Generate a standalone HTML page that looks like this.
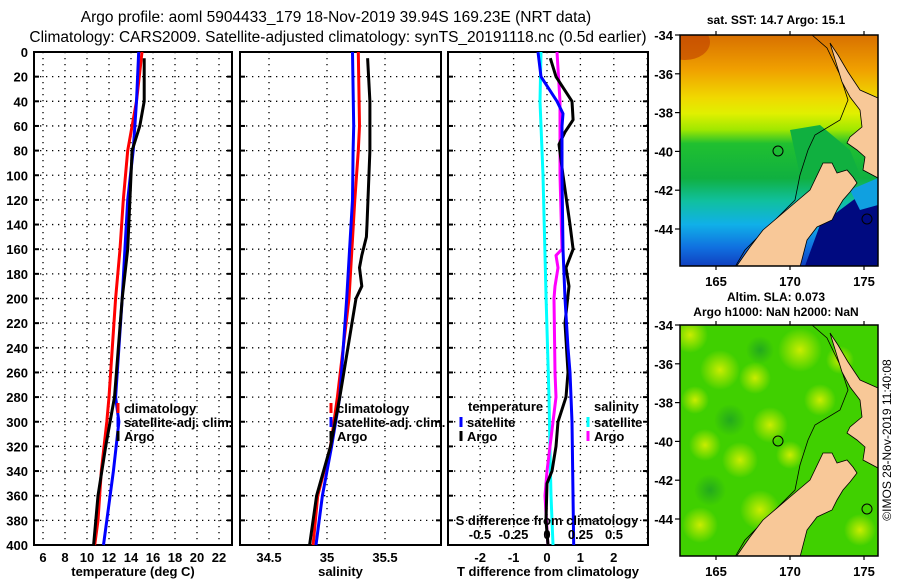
<!DOCTYPE html>
<html><head><meta charset="utf-8">
<style>
html,body{margin:0;padding:0;background:#fff;}
svg{display:block;font-family:"Liberation Sans",Arial,sans-serif;font-weight:bold;}
</style></head>
<body>
<svg id="fig" width="900" height="580" viewBox="0 0 900 580">
<text x="336" y="22" font-size="15.5" text-anchor="middle" font-weight="normal">Argo profile: aoml 5904433_179 18-Nov-2019 39.94S 169.23E (NRT data)</text>
<text x="338" y="42" font-size="15.5" text-anchor="middle" font-weight="normal">Climatology: CARS2009. Satellite-adjusted climatology: synTS_20191118.nc (0.5d earlier)</text>
<g id="charts"></g>
<g id="maps"></g>
<text transform="translate(891,440) rotate(-90)" font-size="12" text-anchor="middle" font-weight="normal">©IMOS 28-Nov-2019 11:40:08</text>
</svg>
<script>
// ---------- data ----------
const depthTicks = [0,20,40,60,80,100,120,140,160,180,200,220,240,260,280,300,320,340,360,380,400];
const tempTicks = [6,8,10,12,14,16,18,20,22];
const salTicks = [34.5,35,35.5];
const tdTicks = [-2,-1,0,1,2];
const sdTicks = [-0.5,-0.25,0,0.25,0.5];
const sdTickLabels = ['-0.5','-0.25','0','0.25','0.5'];

const climDepth = [0,40,80,120,160,200,280,300,340,380,400];
const tempClim = [15.0,14.5,13.7,13.3,13.0,12.6,12.0,11.8,11.3,11.0,10.7];
const tempSat  = [14.7,14.5,14.2,13.7,13.45,13.2,12.6,12.9,12.4,11.8,11.5];
const argoDepth = [5,40,60,80,120,160,200,280,320,360,400];
const tempArgo = [15.2,15.2,14.8,14.1,13.9,13.7,13.2,12.5,11.7,11.0,10.6];

const salDepth = [0,60,80,120,200,280,320,360,400];
const salClim = [35.27,35.28,35.27,35.24,35.19,35.09,35.03,34.92,34.88];
const salSat  = [35.22,35.23,35.225,35.22,35.17,35.11,35.04,34.96,34.905];
const salArgoDepth = [5,40,80,140,150,165,175,190,200,280,320,360,400];
const salArgo = [35.35,35.37,35.37,35.345,35.34,35.30,35.28,35.30,35.25,35.11,35.03,34.91,34.85];

const tdDepth = [0,20,40,50,60,100,160,200,240,260,300,400];
const tdSat = [-0.27,-0.18,0.3,0.48,0.45,0.45,0.48,0.54,0.63,0.69,0.75,0.8];
const tdArgoDepth = [5,20,40,55,65,75,100,140,160,175,190,220,260,280,300,320,340,350,380,400];
const tdArgo = [0.1,0.27,0.75,0.78,0.54,0.36,0.48,0.69,0.78,0.57,0.66,0.54,0.63,0.57,0.33,0.27,0.15,0.0,-0.03,0.03];
const sdDepth = [0,40,100,160,165,175,190,200,260,280,300,340,360,400];
const sdArgo = [0.075,0.097,0.097,0.112,0.067,0.082,0.06,0.052,0.06,0.067,0.045,0.0,-0.015,0.007];
const sdSatDepth = [0,40,100,200,280,320,360,400];
const sdSat = [-0.045,-0.052,-0.03,-0.007,0.015,0.022,0.03,0.045];

// ---------- helpers ----------
const NS='http://www.w3.org/2000/svg';
const charts=document.getElementById('charts');
function mk(tag,attrs,parent){const e=document.createElementNS(NS,tag);for(const k in attrs)e.setAttribute(k,attrs[k]);(parent||charts).appendChild(e);return e;}
const Y0=52,Y1=545;
const yD=d=>Y0+(Y1-Y0)*d/400;

function panel(name,left,right,xs,ticks,labels,xlabel,gridTicks){
  const g=mk('g',{});
  
  
  (gridTicks||ticks).forEach(t=>{const x=xs(t);const l=mk('line',{x1:x,x2:x,y1:Y0,y2:Y1,stroke:'#000','stroke-width':1.3,'stroke-dasharray':'1.3 4.7'},g);});
  depthTicks.forEach(d=>{const y=yD(d);const l=mk('line',{x1:left,x2:right,y1:y,y2:y,stroke:'#000','stroke-width':1.3,'stroke-dasharray':'1.3 4.7'},g);
    mk('line',{x1:left,x2:left+5,y1:y,y2:y,stroke:'#000','stroke-width':2},g);mk('line',{x1:right-5,x2:right,y1:y,y2:y,stroke:'#000','stroke-width':2},g);});
  const r=mk('rect',{x:left,y:Y0,width:right-left,height:Y1-Y0,fill:'none',stroke:'#000','stroke-width':2},g);
  
  if(labels){ticks.forEach((t,i)=>{const tx=mk('text',{x:xs(t),y:562,'font-size':13,'text-anchor':'middle'},g);tx.textContent=labels[i];});}
  const xl=mk('text',{x:(left+right)/2,y:576,'font-size':13,'text-anchor':'middle'},g);xl.textContent=xlabel;
  
  return g;
}
function line(g,name,xs,depths,vals,color,w){
  const pts=depths.map((d,i)=>xs(vals[i]).toFixed(1)+','+yD(d).toFixed(1)).join(' ');
  const p=mk('polyline',{points:pts,fill:'none',stroke:color,'stroke-width':w||3,'stroke-linejoin':'round'},g);
  
}
function legend(g,x,y,color,label,name){
  mk('line',{x1:x,x2:x,y1:y-10,y2:y,stroke:color,'stroke-width':3},g);
  const t=mk('text',{x:x+6,y:y,'font-size':13},g);t.textContent=label;
  
}

depthTicks.forEach(d=>{const t=mk('text',{x:28,y:yD(d)+5,'font-size':13,'text-anchor':'end'});t.textContent=d;});

const xT=t=>43+(t-6)*11;
const g1=panel('temperature-panel',34,232,xT,tempTicks,tempTicks.map(String),'temperature (deg C)');
line(g1,'temp-climatology-line',xT,climDepth,tempClim,'#ff0000');
line(g1,'temp-satellite-line',xT,climDepth,tempSat,'#0000ff');
line(g1,'temp-argo-line',xT,argoDepth,tempArgo,'#000000');
legend(g1,118,413,'#ff0000','climatology','legend-climatology');
legend(g1,118,427,'#0000ff','satellite-adj. clim.','legend-satellite');
legend(g1,118,441,'#000000','Argo','legend-argo');

const xS=s=>327+(s-35)*116;
const g2=panel('salinity-panel',240,441,xS,salTicks,['34.5','35','35.5'],'salinity');
line(g2,'sal-climatology-line',xS,salDepth,salClim,'#ff0000');
line(g2,'sal-satellite-line',xS,salDepth,salSat,'#0000ff');
line(g2,'sal-argo-line',xS,salArgoDepth,salArgo,'#000000');
legend(g2,331,413,'#ff0000','climatology','legend-climatology-s');
legend(g2,331,427,'#0000ff','satellite-adj. clim.','legend-satellite-s');
legend(g2,331,441,'#000000','Argo','legend-argo-s');

const xTD=t=>547+t*33.4;
const xSD=s=>547+s*134;
const g3=panel('difference-panel',448,648,xTD,tdTicks,tdTicks.map(String),'T difference from climatology',[-3,-2,-1,0,1,2,3].filter(v=>xTD(v)>448&&xTD(v)<648));
line(g3,'s-diff-satellite-line',xSD,sdSatDepth,sdSat,'#00ffff');
line(g3,'s-diff-argo-line',xSD,sdDepth,sdArgo,'#ff00ff');
line(g3,'t-diff-argo-line',xTD,tdArgoDepth,tdArgo,'#000000');
line(g3,'t-diff-satellite-line',xTD,tdDepth,tdSat,'#0000ff');
sdTicks.forEach((s,i)=>{const t=mk('text',{x:xSD(s),y:539,'font-size':13,'text-anchor':'middle'},g3);t.textContent=sdTickLabels[i];});
const st=mk('text',{x:547,y:525,'font-size':13,'text-anchor':'middle'},g3);st.textContent='S difference from climatology';

const tl=mk('text',{x:468,y:411,'font-size':13},g3);tl.textContent='temperature';
legend(g3,461,427,'#0000ff','satellite','legend-t-satellite');
legend(g3,461,441,'#000000','Argo','legend-t-argo');
const sl=mk('text',{x:594,y:411,'font-size':13},g3);sl.textContent='salinity';
legend(g3,588,427,'#00ffff','satellite','legend-s-satellite');
legend(g3,588,441,'#ff00ff','Argo','legend-s-argo');

// ---------- maps ----------
const maps=document.getElementById('maps');
function mm(tag,attrs,parent){const e=document.createElementNS(NS,tag);for(const k in attrs)e.setAttribute(k,attrs[k]);(parent||maps).appendChild(e);return e;}
const defs=mm('defs',{});
defs.innerHTML=`
<linearGradient id="sst" x1="0" y1="0" x2="0" y2="1">
<stop offset="0" stop-color="#d87000"/><stop offset="0.15" stop-color="#f0a000"/><stop offset="0.27" stop-color="#f0d800"/>
<stop offset="0.34" stop-color="#e0f000"/><stop offset="0.41" stop-color="#a0e800"/><stop offset="0.47" stop-color="#20c030"/>
<stop offset="0.62" stop-color="#10b040"/><stop offset="0.72" stop-color="#10c0a0"/><stop offset="0.82" stop-color="#10b0e8"/>
<stop offset="0.92" stop-color="#1070e0"/><stop offset="1" stop-color="#1040c0"/></linearGradient>
<radialGradient id="blob"><stop offset="0" stop-color="#d8f000" stop-opacity="0.9"/><stop offset="1" stop-color="#d8f000" stop-opacity="0"/></radialGradient>
<radialGradient id="dark"><stop offset="0" stop-color="#109030" stop-opacity="0.6"/><stop offset="1" stop-color="#109030" stop-opacity="0"/></radialGradient>
<clipPath id="c1" clipPathUnits="userSpaceOnUse"><rect x="680" y="35" width="198" height="231"/></clipPath>`;
const southIsland="736,267 750,247 763,230 790,207 810,190 823,163 832,163 837,173 847,170 853,177 857,183 850,192 843,200 837,210 832,220 817,227 807,240 800,267";
const northIsland="830,43 838,55 848,72 860,90 878,98 878,178 863,170 865,157 857,150 847,143 850,137 862,127 860,110 850,97 842,82";
const contour="812,35 827,48 840,75 848,100 840,120 815,135 808,150 800,175 795,200 770,225 745,250 735,267";
function drawMap(name,dy,isSST){
  const outer=mm('g',{transform:'translate(0,'+dy+')'});
  const g=mm('g',{'clip-path':'url(#c1)'},outer);
  
  if(isSST){
    mm('rect',{x:680,y:35,width:198,height:231,fill:'url(#sst)'},g);
    mm('ellipse',{cx:685,cy:42,rx:25,ry:18,fill:'#c04000',opacity:0.6},g);
    mm('polygon',{points:'790,130 820,125 850,150 860,175 840,180 800,175',fill:'#10b040'},g);
    mm('polygon',{points:'820,225 860,195 878,190 878,266 805,266',fill:'#000a80'},g);
    mm('polygon',{points:'850,190 878,178 878,205 860,210',fill:'#10a0e0'},g);
  }else{
    mm('rect',{x:680,y:35,width:198,height:231,fill:'#40d000'},g);
    [[690,45,18],[720,80,20],[755,88,16],[800,60,22],[695,110,14],[770,135,18],[820,110,16],[705,155,16],[740,170,18],[790,165,14],[760,220,20],[700,235,18],[860,240,16],[840,70,14]].forEach(b=>mm('circle',{cx:b[0],cy:b[1],r:b[2],fill:'url(#blob)'},g));
    [[730,130,16],[760,60,14],[710,200,16],[800,215,14]].forEach(b=>mm('circle',{cx:b[0],cy:b[1],r:b[2],fill:'url(#dark)'},g));
  }
  mm('polyline',{points:contour,fill:'none',stroke:'#000','stroke-width':0.8},g);
  mm('polygon',{points:southIsland,fill:'#f8c898',stroke:'#000','stroke-width':0.8},g);
  mm('polygon',{points:northIsland,fill:'#f8c898',stroke:'#000','stroke-width':0.8},g);
  const c=mm('circle',{cx:778,cy:151,r:5,fill:'none',stroke:'#000','stroke-width':1},g);
  
  mm('circle',{cx:867,cy:219,r:5,fill:'none',stroke:'#000','stroke-width':1},g);
  const f=mm('rect',{x:680,y:35,width:198,height:231,fill:'none',stroke:'#000','stroke-width':1.5},outer);
  
  [-34,-36,-38,-40,-42,-44].forEach(lat=>{const y=35+(-34-lat)*19.4;
    mm('line',{x1:675,x2:680,y1:y,y2:y,stroke:'#000','stroke-width':1.2},outer);
    const t=mm('text',{x:673,y:y+5,'font-size':13,'text-anchor':'end'},outer);t.textContent=lat;
    });
  [165,170,175].forEach(lon=>{const x=716+(lon-165)*14.8;
    mm('line',{x1:x,x2:x,y1:31,y2:35,stroke:'#000','stroke-width':1.2},outer);
    mm('line',{x1:x,x2:x,y1:266,y2:270,stroke:'#000','stroke-width':1.2},outer);
    const t=mm('text',{x:x,y:286,'font-size':13,'text-anchor':'middle'},outer);t.textContent=lon;
    });
}
drawMap('sst-map',0,true);
drawMap('sla-map',290,false);
const t1=mm('text',{x:776,y:24,'font-size':12,'text-anchor':'middle'});t1.textContent='sat. SST: 14.7 Argo: 15.1';

const t2=mm('text',{x:776,y:301,'font-size':12,'text-anchor':'middle'});t2.textContent='Altim. SLA: 0.073';

const t3=mm('text',{x:776,y:316,'font-size':12,'text-anchor':'middle'});t3.textContent='Argo h1000: NaN h2000: NaN';

</script>
</body></html>
